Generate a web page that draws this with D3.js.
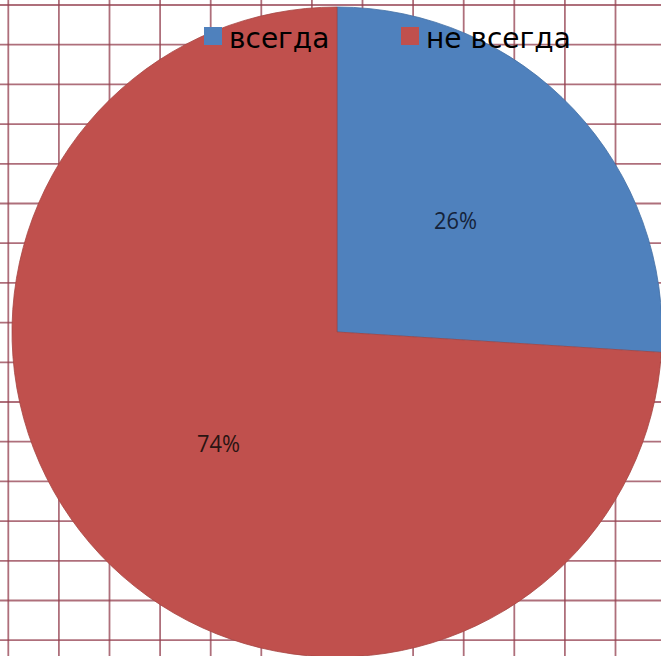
<!DOCTYPE html>
<html lang="ru">
<head>
<meta charset="UTF-8">
<title>всегда / не всегда</title>
<script src="https://d3js.org/d3.v7.min.js"></script>
<style>
  html, body { margin: 0; padding: 0; background: #fff; overflow: hidden; }
</style>
</head>
<body>
<svg id="chart" width="661" height="656"></svg>
<script>
// chart data
const categories = ['всегда', 'не всегда'];
const values = [26, 74];
const colors = ['#4F81BD', '#C0504D'];

const svg = d3.select('#chart');
const W = 661, H = 656;

// squared paper background
const grid = svg.append('g').attr('class', 'grid');
const xs = d3.range(0, 14).map(i => 8.3 + i * 50.6);
const ys = d3.range(0, 17).map(i => 5 + i * 39.7);
grid.selectAll('line.v').data(xs).enter().append('line')
    .attr('x1', d => d).attr('x2', d => d)
    .attr('y1', 0).attr('y2', H)
    .attr('stroke', '#94404f').attr('stroke-width', 1.8).attr('opacity', 0.75);
grid.selectAll('line.h').data(ys).enter().append('line')
    .attr('y1', d => d).attr('y2', d => d)
    .attr('x1', 0).attr('x2', W)
    .attr('stroke', '#94404f').attr('stroke-width', 1.8).attr('opacity', 0.75);

// pie
const cx = 337, cy = 332, R = 325;
const pie = d3.pie().sort(null).value(d => d);
const arcs = pie(values);
const arc = d3.arc().innerRadius(0).outerRadius(R);
const labelArc = d3.arc().innerRadius(R * 0.5).outerRadius(R * 0.5);

const g = svg.append('g').attr('transform', `translate(${cx},${cy})`);
g.selectAll('path').data(arcs).enter().append('path')
    .attr('d', arc)
    .attr('fill', (d, i) => colors[i])
    .attr('stroke', (d, i) => d3.color(colors[i]).darker(0.4))
    .attr('stroke-width', 0.8);

// percentage labels
g.selectAll('text').data(arcs).enter().append('text')
    .attr('transform', d => `translate(${labelArc.centroid(d)})`)
    .attr('text-anchor', 'middle')
    .attr('dy', '0.36em')
    .attr('font-family', 'Open Sans, sans-serif')
    .attr('font-size', 24)
    .attr('textLength', 43)
    .attr('lengthAdjust', 'spacingAndGlyphs')
    .attr('fill', (d, i) => i === 0 ? '#15233a' : '#2a1412')
    .text(d => d.data + '%');

// legend
const legendX = [204, 401];
const legend = svg.append('g').attr('class', 'legend');
const item = legend.selectAll('g').data(categories).enter().append('g')
    .attr('transform', (d, i) => `translate(${legendX[i]},27)`);
item.append('rect')
    .attr('width', 18).attr('height', 18)
    .attr('fill', (d, i) => colors[i]);
item.append('text')
    .attr('x', 25).attr('y', 21)
    .attr('font-family', 'DejaVu Sans, sans-serif')
    .attr('font-size', 28)
    .attr('fill', '#000')
    .text(d => d);
</script>
</body>
</html>
